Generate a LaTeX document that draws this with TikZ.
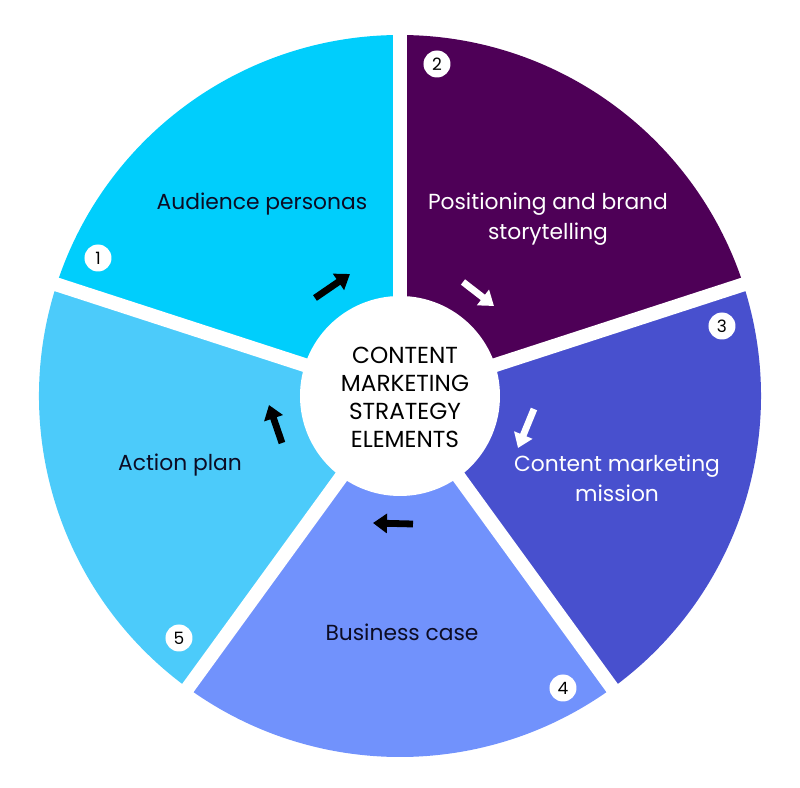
\documentclass[tikz,border=0pt]{standalone}
\usepackage{fontspec}
\setmainfont{Poppins}
\definecolor{audcyan}{RGB}{0, 206, 252}
\definecolor{posplum}{RGB}{78, 0, 87}
\definecolor{misindigo}{RGB}{72, 80, 206}
\definecolor{busperi}{RGB}{113, 146, 252}
\definecolor{actsky}{RGB}{76, 203, 250}
\definecolor{inkdark}{RGB}{12, 12, 36}
\usetikzlibrary{arrows.meta, positioning, calc}
\tikzset{
    wedgelabel/.style={font=\fontsize{10.9}{15}\selectfont, align=center, text=inkdark},
    wedgelabelw/.style={wedgelabel, text=white},
    numdot/.style={circle, fill=white, minimum size=13.5pt, inner sep=0pt, font=\fontsize{8.5}{9}\selectfont, text=black},
    hubtext/.style={font=\fontsize{11.6}{14}\selectfont, align=center, text=black},
    gapline/.style={white, line width=7pt, line cap=butt},
    cyclearrow/.style={-{Triangle[length=7pt, width=9.5pt]}, line width=3.4pt},
}
\begin{document}
\begin{tikzpicture}[x=0.5pt, y=0.5pt]
    \useasboundingbox (-400,-392) rectangle (400,396);
    \fill[audcyan] (0,0) -- (90:361) arc (90:162:361) -- cycle;
    \fill[posplum] (0,0) -- (18:361) arc (18:90:361) -- cycle;
    \fill[misindigo] (0,0) -- (-54:361) arc (-54:18:361) -- cycle;
    \fill[busperi] (0,0) -- (-126:361) arc (-126:-54:361) -- cycle;
    \fill[actsky] (0,0) -- (162:361) arc (162:234:361) -- cycle;
    \foreach \ang in {90,18,-54,-126,162}
        \draw[gapline] (0,0) -- (\ang:375);
    \node[circle, fill=white, minimum size=100pt, inner sep=0pt] (hub) at (0,0) {};
    \node[hubtext] (hubtxt) at (5,-1) {CONTENT\\MARKETING\\STRATEGY\\ELEMENTS};

    \node[wedgelabel] (aud) at (-138,192) {Audience personas};
    \node[wedgelabelw] (pos) at (148,177) {Positioning and brand\\storytelling};
    \node[wedgelabelw] (mis) at (217,-82) {Content marketing\\mission};
    \node[wedgelabel] (bus) at (2,-236) {Business case};
    \node[wedgelabel] (act) at (-220,-69) {Action plan};

    \node[numdot] (n1) at (-302,138) {1};
    \node[numdot] (n2) at (37,332) {2};
    \node[numdot] (n3) at (322,70) {3};
    \node[numdot] (n4) at (163,-292) {4};
    \node[numdot] (n5) at (-221,-242) {5};

    \draw[cyclearrow, black] (-85,98) -- (-50,122);
    \draw[cyclearrow, white] (63,114) -- (94,90);
    \draw[cyclearrow, white] (134,-13) -- (118,-52);
    \draw[cyclearrow, black] (13,-128) -- (-27,-127);
    \draw[cyclearrow, black] (-118,-47) -- (-131,-9);
\end{tikzpicture}
\end{document}
